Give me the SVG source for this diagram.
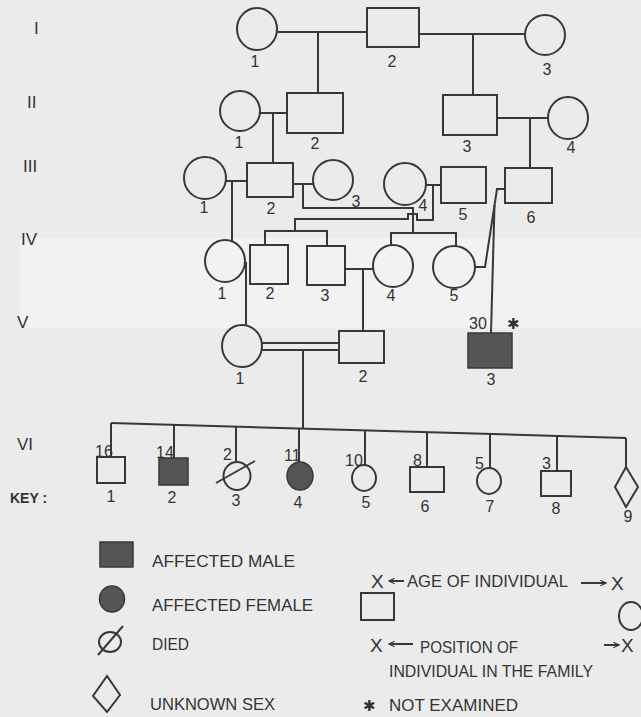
<svg xmlns="http://www.w3.org/2000/svg" width="641" height="717" viewBox="0 0 641 717">
<style>
.bg{fill:#ebebeb}
.n{fill:none;stroke:#383838;stroke-width:2}
.f{fill:#555;stroke:#383838;stroke-width:1.5}
.c{fill:none;stroke:#383838;stroke-width:2}
text{font-family:"Liberation Sans",Arial,sans-serif;fill:#333}
.lb{font-size:16px;text-anchor:middle}
.gen{font-size:17px}
.age{font-size:16px}
.key{font-size:17px}
</style>
<defs>
<marker id="ah" viewBox="0 0 10 10" refX="9" refY="5" markerWidth="7" markerHeight="7" orient="auto-start-reverse" markerUnits="userSpaceOnUse">
<path d="M1,1 L9,5 L1,9" fill="none" stroke="#383838" stroke-width="1.6"/>
</marker>
</defs>
<rect class="bg" x="0" y="0" width="641" height="717"/>
<rect x="20" y="238" width="621" height="90" fill="#f2f2f2"/>

<g id="generation-labels">
<text class="gen" x="34" y="34">I</text>
<text class="gen" x="27" y="108">II</text>
<text class="gen" x="23" y="172">III</text>
<text class="gen" x="21" y="245">IV</text>
<text class="gen" x="17" y="328">V</text>
<text class="gen" x="17" y="450">VI</text>
</g>

<g id="connectors">
<path class="c" d="M277,32 H367 M318,32 V93"/>
<path class="c" d="M419,34 H525 M473,34 V95"/>
<path class="c" d="M260,113 H287 M273,113 V163"/>
<path class="c" d="M497,118 H548 M530,118 V168"/>
<path class="c" d="M226,181 H247 M232,181 V242"/>
<path class="c" d="M293,184 H313 M303,184 V208 H413 V233"/>
<path class="c" d="M426,185 H441 M433,185 V220 H417 V214 H408 V219 H295 V231"/>
<path class="c" d="M265,245 V231 H327 V246"/>
<path class="c" d="M391,245 V233 H456 V246"/>
<path class="c" d="M345,269 H373 M363,269 V331"/>
<path class="c" d="M475,267 H485 L497,189 H505"/>
<path class="c" d="M494.5,205 L491,333"/>
<path class="c" d="M246,262 V326"/>
<path class="c" d="M262,343 H339 M262,350 H339"/>
<path class="c" d="M303,350 V429"/>
<path class="c" d="M111,423 L626,438"/>
<path class="c" d="M111,423 V457 M174,424.8 V458 M236,426.6 V462 M299,428.5 V462 M365,430.4 V465 M427,432.2 V467 M490,434 V468 M557,436 V471 M626,438 V467"/>
</g>

<g id="I-1"><ellipse class="n" cx="257" cy="29" rx="20" ry="21"/><text class="lb" x="255" y="67">1</text></g>
<g id="I-2"><rect class="n" x="367" y="8" width="52" height="39"/><text class="lb" x="392" y="67">2</text></g>
<g id="I-3"><ellipse class="n" cx="545" cy="35" rx="20" ry="20"/><text class="lb" x="547" y="75">3</text></g>

<g id="II-1"><ellipse class="n" cx="240" cy="111" rx="20" ry="20"/><text class="lb" x="239" y="148">1</text></g>
<g id="II-2"><rect class="n" x="287" y="93" width="56" height="40"/><text class="lb" x="315" y="149">2</text></g>
<g id="II-3"><rect class="n" x="443" y="95" width="54" height="40"/><text class="lb" x="467" y="152">3</text></g>
<g id="II-4"><ellipse class="n" cx="568" cy="118" rx="20" ry="21"/><text class="lb" x="571" y="153">4</text></g>

<g id="III-1"><ellipse class="n" cx="205" cy="178" rx="21" ry="21"/><text class="lb" x="204" y="213">1</text></g>
<g id="III-2"><rect class="n" x="247" y="163" width="46" height="34"/><text class="lb" x="271" y="214">2</text></g>
<g id="III-3"><ellipse class="n" cx="333" cy="180" rx="20" ry="20"/><text class="lb" x="356" y="207">3</text></g>
<g id="III-4"><ellipse class="n" cx="405" cy="184" rx="21" ry="21"/><text class="lb" x="423" y="211">4</text></g>
<g id="III-5"><rect class="n" x="441" y="167" width="45" height="36"/><text class="lb" x="463" y="220">5</text></g>
<g id="III-6"><rect class="n" x="505" y="168" width="47" height="35"/><text class="lb" x="531" y="223">6</text></g>

<g id="IV-1"><ellipse class="n" cx="225" cy="261" rx="20" ry="21"/><text class="lb" x="222" y="299">1</text></g>
<g id="IV-2"><rect class="n" x="250" y="245" width="38" height="39"/><text class="lb" x="270" y="299">2</text></g>
<g id="IV-3"><rect class="n" x="307" y="246" width="38" height="39"/><text class="lb" x="325" y="301">3</text></g>
<g id="IV-4"><ellipse class="n" cx="393" cy="266" rx="20" ry="21"/><text class="lb" x="391" y="301">4</text></g>
<g id="IV-5"><ellipse class="n" cx="454" cy="267" rx="21" ry="21"/><text class="lb" x="454" y="301">5</text></g>

<g id="V-1"><ellipse class="n" cx="242" cy="346" rx="20" ry="21"/><text class="lb" x="240" y="384">1</text></g>
<g id="V-2"><rect class="n" x="339" y="331" width="45" height="32"/><text class="lb" x="363" y="382">2</text></g>
<g id="V-3"><rect class="f" x="468" y="333" width="44" height="35"/><text class="age" x="469" y="329">30</text><text x="513" y="329" font-family="'DejaVu Sans',sans-serif" font-size="15" text-anchor="middle">✱</text><text class="lb" x="491" y="385">3</text></g>

<g id="VI-1"><rect class="n" x="97" y="457" width="28" height="26"/><text class="age" x="95" y="457">16</text><text class="lb" x="111" y="502">1</text></g>
<g id="VI-2"><rect class="f" x="159" y="458" width="29" height="27"/><text class="age" x="156" y="458">14</text><text class="lb" x="172" y="503">2</text></g>
<g id="VI-3"><ellipse class="n" cx="237" cy="476" rx="13.5" ry="14"/><path class="c" d="M216,483 L255,461"/><text class="age" x="223" y="460">2</text><text class="lb" x="236" y="506">3</text></g>
<g id="VI-4"><ellipse class="f" cx="300" cy="476" rx="13" ry="14"/><text class="age" x="284" y="461">11</text><text class="lb" x="298" y="508">4</text></g>
<g id="VI-5"><ellipse class="n" cx="364" cy="478" rx="12" ry="13"/><text class="age" x="345" y="466">10</text><text class="lb" x="366" y="508">5</text></g>
<g id="VI-6"><rect class="n" x="410" y="467" width="34" height="25"/><text class="age" x="413" y="466">8</text><text class="lb" x="425" y="512">6</text></g>
<g id="VI-7"><ellipse class="n" cx="489" cy="481" rx="12" ry="13"/><text class="age" x="475" y="469">5</text><text class="lb" x="490" y="512">7</text></g>
<g id="VI-8"><rect class="n" x="541" y="471" width="30" height="25"/><text class="age" x="542" y="469">3</text><text class="lb" x="556" y="514">8</text></g>
<g id="VI-9"><path class="n" d="M626,467 L638,487 L626,507 L615,487 Z"/><text class="lb" x="628" y="522">9</text></g>

<g id="key">
<text x="10" y="503" font-size="14" font-weight="bold">KEY :</text>
<rect class="f" x="100" y="542" width="33" height="25"/>
<text class="key" x="152" y="567" textLength="143" lengthAdjust="spacingAndGlyphs">AFFECTED MALE</text>
<ellipse class="f" cx="112" cy="599" rx="12.5" ry="13"/>
<text class="key" x="152" y="611" textLength="161" lengthAdjust="spacingAndGlyphs">AFFECTED FEMALE</text>
<ellipse class="n" cx="110" cy="642" rx="11" ry="10"/>
<path class="c" d="M98,655 L123,626"/>
<text class="key" x="152" y="650" textLength="37" lengthAdjust="spacingAndGlyphs">DIED</text>
<path class="n" d="M107,676 L120,695 L107,712 L93,696 Z"/>
<text class="key" x="150" y="710" textLength="125" lengthAdjust="spacingAndGlyphs">UNKNOWN SEX</text>

<text x="371" y="588" font-size="19">X</text>
<path class="c" d="M404,581 H389" marker-end="url(#ah)" stroke-width="1.6"/>
<text class="key" x="407" y="587" textLength="161" lengthAdjust="spacingAndGlyphs">AGE OF INDIVIDUAL</text>
<path class="c" d="M581,583 H606" marker-end="url(#ah)" stroke-width="1.6"/>
<text x="611" y="590" font-size="19">X</text>
<rect class="n" x="361" y="593" width="33" height="27"/>
<ellipse class="n" cx="631" cy="616" rx="12" ry="14"/>
<text x="370" y="652" font-size="19">X</text>
<path class="c" d="M413,644 H389" marker-end="url(#ah)" stroke-width="1.6"/>
<text class="key" x="420" y="653" textLength="98" lengthAdjust="spacingAndGlyphs">POSITION OF</text>
<path class="c" d="M604,645 H619" marker-end="url(#ah)" stroke-width="1.6"/>
<text x="621" y="652" font-size="19">X</text>
<text class="key" x="389" y="677" textLength="204" lengthAdjust="spacingAndGlyphs">INDIVIDUAL IN THE FAMILY</text>
<text x="369" y="711" font-family="'DejaVu Sans',sans-serif" font-size="15" text-anchor="middle">✱</text>
<text class="key" x="389" y="711" textLength="129" lengthAdjust="spacingAndGlyphs">NOT EXAMINED</text>
</g>
</svg>
